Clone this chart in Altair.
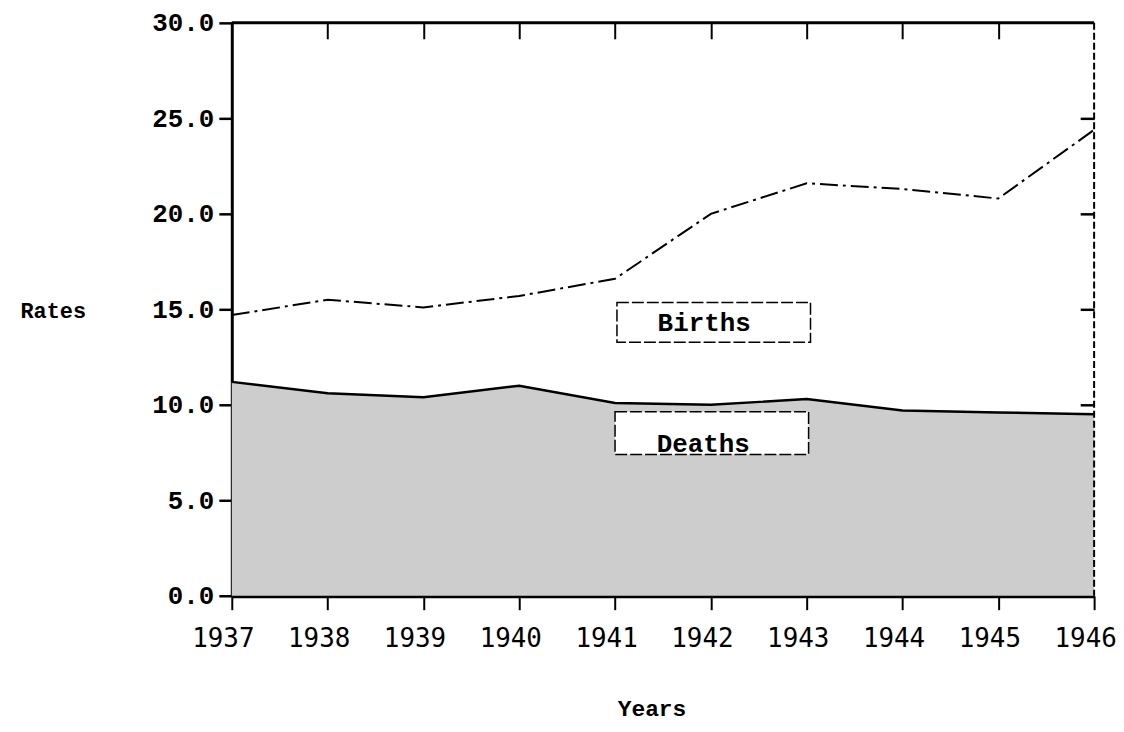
import altair as alt
import pandas as pd

# ---- data ----
years = [1937, 1938, 1939, 1940, 1941, 1942, 1943, 1944, 1945, 1946]
births = [14.7, 15.5, 15.1, 15.7, 16.6, 20.0, 21.6, 21.3, 20.8, 24.4]
deaths = [11.2, 10.6, 10.4, 11.0, 10.1, 10.0, 10.3, 9.7, 9.6, 9.5]
rate_ticks = [0, 5, 10, 15, 20, 25, 30]

labels = ["Births", "Deaths"]

df = pd.DataFrame({"year": years, "births": births, "deaths": deaths})

# annotation boxes (data coordinates)
ann = pd.DataFrame({
    "label": labels,
    "x0": [1941.02, 1941.0],
    "x1": [1943.04, 1943.02],
    "y0": [15.36, 9.64],
    "y1": [13.28, 7.40],
    "tx": [1941.93, 1941.92],
    "ty": [14.27, 7.92],
})

MONO = "Liberation Mono"
NUM = "DejaVu Sans Mono"

xs = alt.Scale(domain=[years[0], years[-1]], nice=False, zero=False)
ys = alt.Scale(domain=[rate_ticks[0], rate_ticks[-1]], nice=False, zero=False)

bottom_axis = alt.Axis(
    values=years, format="d", labelFont=NUM, labelFontSize=26,
    labelPadding=16, labelOffset=-9, labelFlush=False, labelOverlap=False,
    tickSize=14, tickWidth=2, domainWidth=4, grid=False,
    title="Years", titleFont=MONO, titleFontSize=23, titleFontWeight="bold",
    titleX=422, titleY=113, titleAlign="center", titleBaseline="middle",
)
left_axis = alt.Axis(
    values=rate_ticks, format=".1f", labelFont=MONO, labelFontSize=26,
    labelFontWeight="bold", labelPadding=5, labelFlush=False, labelOverlap=False,
    tickSize=13, tickWidth=2.5, domainWidth=3, grid=False,
    title="Rates", titleAngle=0, titleX=-213, titleY=289,
    titleAlign="left", titleBaseline="middle", titleFont=MONO,
    titleFontSize=22, titleFontWeight="bold",
)
top_axis = alt.Axis(
    orient="top", offset=-16, values=years[1:-1], labels=False, domain=False,
    tickSize=16, tickWidth=2, grid=False,
)
right_axis = alt.Axis(
    orient="right", offset=-14, values=rate_ticks[1:-1], labels=False,
    domain=False, tickSize=14, tickWidth=2.5, grid=False,
)

base = alt.Chart(df)

area = base.mark_area(color="#cdcdcd", opacity=1).encode(
    x=alt.X("year:Q", scale=xs, axis=bottom_axis),
    y=alt.Y("deaths:Q", scale=ys, axis=left_axis),
)
deaths_line = base.mark_line(color="black", strokeWidth=2.5).encode(
    x=alt.X("year:Q", scale=xs, axis=None),
    y=alt.Y("deaths:Q", scale=ys, axis=None),
)
births_line = base.mark_line(color="black", strokeWidth=2, strokeDash=[18, 5, 3, 5]).encode(
    x=alt.X("year:Q", scale=xs, axis=top_axis, title=None),
    y=alt.Y("births:Q", scale=ys, axis=right_axis, title=None),
)

top_df = pd.DataFrame({"v": [rate_ticks[-1]]})
right_df = pd.DataFrame({"v": [years[-1]]})
top_rule = alt.Chart(top_df).mark_rule(color="black", strokeWidth=3).encode(
    y=alt.Y("v:Q", scale=ys, axis=None)
)
right_rule = alt.Chart(right_df).mark_rule(color="black", strokeWidth=2, strokeDash=[7, 3]).encode(
    x=alt.X("v:Q", scale=xs, axis=None)
)

boxes = alt.Chart(ann).mark_rect(
    fill="white", stroke="black", strokeWidth=1.5, strokeDash=[12, 3]
).encode(
    x=alt.X("x0:Q", scale=xs, axis=None), x2="x1",
    y=alt.Y("y0:Q", scale=ys, axis=None), y2="y1",
)
texts = alt.Chart(ann).mark_text(font=MONO, fontSize=26, fontWeight="bold", color="black").encode(
    x=alt.X("tx:Q", scale=xs, axis=None),
    y=alt.Y("ty:Q", scale=ys, axis=None),
    text="label:N",
)

chart = (
    alt.layer(area, deaths_line, births_line, top_rule, right_rule, boxes, texts)
    .resolve_axis(x="independent", y="independent")
    .properties(
        width=867, height=576,
        autosize=alt.AutoSizeParams(type="none"),
        padding={"left": 225, "top": 13, "right": 22, "bottom": 130},
        background="white",
    )
    .configure_view(strokeWidth=0)
    .configure_axis(labelColor="black", tickColor="black", domainColor="black", titleColor="black")
)

chart.save("out.html", embed_options={"renderer": "svg", "actions": False})
